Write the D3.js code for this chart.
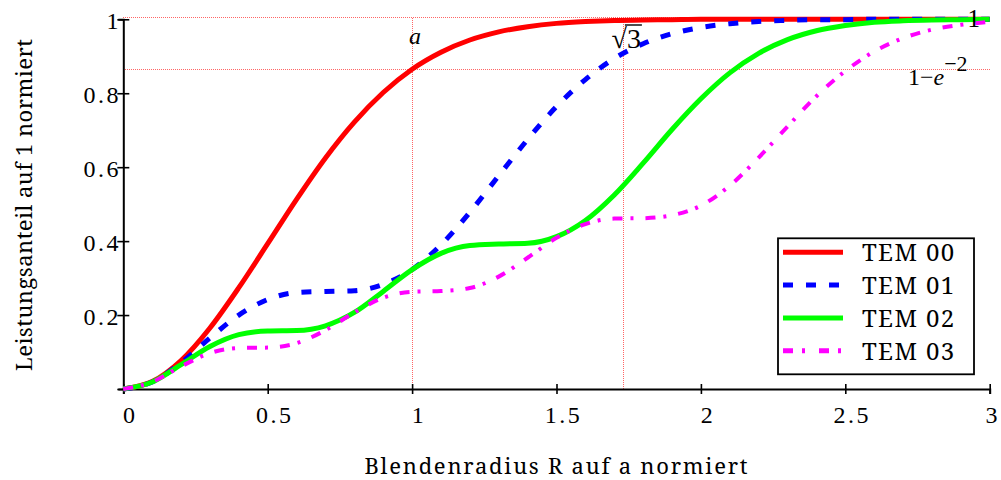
<!DOCTYPE html>
<html>
<head>
<meta charset="utf-8">
<script src="https://cdn.jsdelivr.net/npm/d3@7"></script>
<style>
  html, body { margin: 0; padding: 0; background: #fff; }
  svg { display: block; }
</style>
</head>
<body>
<svg id="chart" width="1001" height="480"></svg>
<script>
// ---- data ----
const radius = [0, 0.1, 0.2, 0.3, 0.4, 0.5, 0.6, 0.7, 0.8, 0.9, 1.0, 1.1, 1.2, 1.3, 1.4, 1.5,
                1.6, 1.7, 1.8, 1.9, 2.0, 2.1, 2.2, 2.3, 2.4, 2.5, 2.6, 2.7, 2.8, 2.9, 3.0];
const tem00 = [0, 0.020, 0.077, 0.165, 0.274, 0.393, 0.513, 0.625, 0.722, 0.802, 0.865, 0.911, 0.944, 0.966, 0.980, 0.989,
               0.994, 0.997, 0.998, 0.999, 1, 1, 1, 1, 1, 1, 1, 1, 1, 1, 1];
const tem01 = [0, 0.019, 0.071, 0.138, 0.200, 0.242, 0.261, 0.264, 0.266, 0.283, 0.323, 0.390, 0.478, 0.577, 0.675, 0.764,
               0.837, 0.894, 0.934, 0.961, 0.978, 0.988, 0.994, 0.997, 0.999, 0.999, 1, 1, 1, 1, 1];
const tem02 = [0, 0.019, 0.066, 0.115, 0.147, 0.157, 0.158, 0.171, 0.207, 0.264, 0.323, 0.367, 0.388, 0.392, 0.394, 0.412,
               0.456, 0.525, 0.611, 0.702, 0.785, 0.855, 0.908, 0.945, 0.969, 0.983, 0.992, 0.996, 0.998, 0.999, 1];
const tem03 = [0, 0.019, 0.061, 0.097, 0.111, 0.112, 0.124, 0.159, 0.207, 0.247, 0.263, 0.265, 0.273, 0.304, 0.355, 0.409,
               0.446, 0.461, 0.462, 0.470, 0.496, 0.550, 0.626, 0.710, 0.792, 0.860, 0.913, 0.949, 0.972, 0.985, 0.993];
const seriesNames = ["TEM 00", "TEM 01", "TEM 02", "TEM 03"];
const xTickValues = [0, 0.5, 1, 1.5, 2, 2.5, 3];
const xTickLabels = ["0", "0.5", "1", "1.5", "2", "2.5", "3"];
const yTickValues = [0, 0.2, 0.4, 0.6, 0.8, 1];
const yTickLabels = ["", "0.2", "0.4", "0.6", "0.8", "1"];
const markerX = [1, Math.sqrt(3)];
const markerY = [1, 1 - Math.exp(-2)];
const xTitle = "Blendenradius R auf a normiert";
const yTitle = "Leistungsanteil auf 1 normiert";

// ---- styles ----
const SERIF = "'Liberation Serif', serif";
const SERIF2 = "'Noto Serif', 'Liberation Serif', serif";
const styles = [
  { color: "#ff0000", width: 5, dash: null },
  { color: "#0000ff", width: 5, dash: "10,13" },
  { color: "#00ff00", width: 5, dash: null },
  { color: "#ff00ff", width: 4, dash: "10,8,3,12" }
];
const allSeries = [tem00, tem01, tem02, tem03];

const svg = d3.select("#chart");
const x = d3.scaleLinear().domain([0, 3]).range([123.3, 989.7]);
const y = d3.scaleLinear().domain([0, 1]).range([389, 19.3]);

// marker lines
const mk = svg.append("g").attr("stroke", "#ff0000").attr("stroke-width", 1)
  .attr("stroke-dasharray", "1,1").attr("opacity", 0.6).attr("shape-rendering", "crispEdges");
markerX.forEach(v => mk.append("line")
  .attr("x1", x(v)).attr("x2", x(v)).attr("y1", y(0)).attr("y2", y(1.005)));
markerY.forEach(v => mk.append("line")
  .attr("x1", x(0)).attr("x2", x(3)).attr("y1", y(v === 1 ? 1.005 : v)).attr("y2", y(v === 1 ? 1.005 : v)));

// axes
const xAxis = svg.append("g").attr("transform", `translate(0,${y(0)})`)
  .call(d3.axisBottom(x).tickValues(xTickValues).tickSizeOuter(0).tickSize(5).tickFormat(""));
const yAxis = svg.append("g").attr("transform", `translate(${x(0)},0)`)
  .call(d3.axisLeft(y).tickValues(yTickValues).tickSizeOuter(0).tickSize(5).tickFormat(""));
[xAxis, yAxis].forEach(g => {
  g.select(".domain").attr("stroke", "#000").attr("stroke-width", 2);
  g.selectAll(".tick line").attr("stroke", "#000").attr("stroke-width", 1.6);
});
xAxis.selectAll(".tick line").attr("y1", -5).attr("y2", 5);
yAxis.selectAll(".tick line").attr("x1", -6).attr("x2", 6);

// tick labels
svg.append("g").selectAll("text").data(xTickValues).join("text")
  .attr("x", (d, i) => x(d) + (i === xTickValues.length - 1 ? 3 : 7)).attr("y", 423)
  .attr("text-anchor", "middle").attr("font-size", 24).attr("letter-spacing", 2.5)
  .style("font-family", SERIF)
  .text((d, i) => xTickLabels[i]);
svg.append("g").selectAll("text").data(yTickValues).join("text")
  .attr("x", 121).attr("y", d => y(d) + 9.5)
  .attr("text-anchor", "end").attr("font-size", 24).attr("letter-spacing", 2.5)
  .style("font-family", SERIF)
  .text((d, i) => yTickLabels[i]);

// axis titles
svg.append("text").attr("x", 556).attr("y", 474).attr("text-anchor", "middle")
  .attr("font-size", 22).attr("textLength", 383).attr("lengthAdjust", "spacing")
  .style("font-family", SERIF2).text(xTitle);
svg.append("text").attr("transform", "translate(32,205) rotate(-90)").attr("text-anchor", "middle")
  .attr("font-size", 22).attr("textLength", 332).attr("lengthAdjust", "spacing")
  .style("font-family", SERIF2).text(yTitle);

// curves
const line = d3.line().x((d, i) => x(radius[i])).y(d => y(d)).curve(d3.curveMonotoneX);
allSeries.forEach((s, k) => {
  svg.append("path").datum(s).attr("d", line)
    .attr("fill", "none").attr("stroke", styles[k].color).attr("stroke-width", styles[k].width)
    .attr("stroke-dasharray", styles[k].dash);
});

// marker annotations
svg.append("text").attr("x", x(markerX[0]) + 3).attr("y", 44).attr("text-anchor", "middle")
  .attr("font-size", 24).attr("font-style", "italic").style("font-family", SERIF).text("a");
const sq = svg.append("text").attr("x", x(markerX[1]) - 12).attr("y", 48).attr("font-size", 28)
  .style("font-family", SERIF);
sq.append("tspan").text("√");
sq.append("tspan").text("3");
{
  const bb = sq.node().getBBox();
  const wRoot = sq.node().getSubStringLength(0, 1);
  svg.append("line").attr("x1", bb.x + wRoot - 2).attr("x2", bb.x + bb.width + 1)
    .attr("y1", 25).attr("y2", 25).attr("stroke", "#000").attr("stroke-width", 1.4);
}
svg.append("text").attr("x", 980).attr("y", 27).attr("text-anchor", "end").attr("font-size", 25)
  .style("font-family", SERIF).text("1");
const lbl = svg.append("text").attr("x", 908).attr("y", 85).attr("font-size", 24).style("font-family", SERIF);
lbl.append("tspan").text("1\u2212");
lbl.append("tspan").attr("font-style", "italic").text("e");
lbl.append("tspan").attr("dy", -14).attr("font-size", 22).text("\u22122");

// legend
const lg = svg.append("g");
lg.append("rect").attr("x", 778).attr("y", 238.3).attr("width", 196).attr("height", 136)
  .attr("fill", "#fff").attr("stroke", "#000").attr("stroke-width", 1.8);
seriesNames.forEach((name, k) => {
  const ry = 252.3 + k * 32.8;
  lg.append("line").attr("x1", 783).attr("x2", 843).attr("y1", ry).attr("y2", ry)
    .attr("stroke", styles[k].color).attr("stroke-width", 5)
    .attr("stroke-dasharray", k === 1 ? "10,13" : k === 3 ? "10,9,3,14" : null);
  lg.append("text").attr("x", 862).attr("y", ry + 9).attr("font-size", 24)
    .attr("letter-spacing", 1.4).style("font-family", SERIF2).text(name);
});
</script>
</body>
</html>
